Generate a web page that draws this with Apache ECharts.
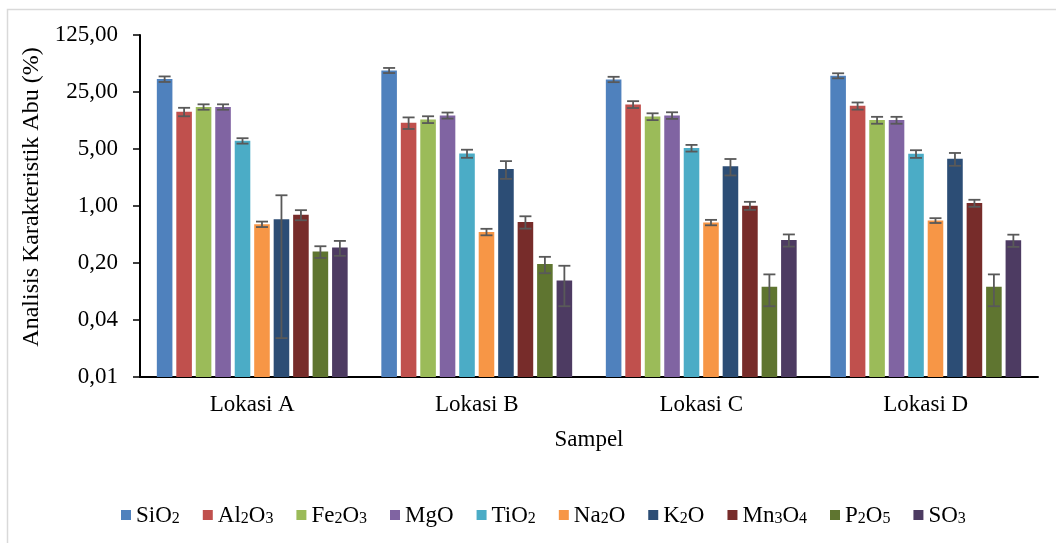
<!DOCTYPE html>
<html>
<head>
<meta charset="utf-8">
<script src="https://cdn.jsdelivr.net/npm/echarts@6/dist/echarts.min.js"></script>
<style>html,body{margin:0;padding:0;background:#fff}#chart{width:1056px;height:543px}</style>
</head>
<body>
<div id="chart"></div>
<script>
const categories = ['Lokasi A', 'Lokasi B', 'Lokasi C', 'Lokasi D'];
const seriesNames = ['SiO2', 'Al2O3', 'Fe2O3', 'MgO', 'TiO2', 'Na2O', 'K2O', 'Mn3O4', 'P2O5', 'SO3'];
const yTicks = [0.008, 0.04, 0.2, 1, 5, 25, 125];

const SiO2 = [36.0, 46.0, 35.7, 39.6];
const Al2O3 = [14.3, 10.5, 17.6, 16.9];
const Fe2O3 = [16.4, 11.5, 12.5, 11.3];
const MgO = [16.4, 12.9, 12.9, 11.3];
const TiO2 = [6.3, 4.4, 5.13, 4.36];
const Na2O = [0.598, 0.481, 0.628, 0.664];
const K2O = [0.689, 2.85, 3.07, 3.79];
const Mn3O4 = [0.779, 0.638, 1.01, 1.085];
const P2O5 = [0.276, 0.194, 0.102, 0.102];
const SO3 = [0.309, 0.122, 0.383, 0.38];

const errSiO2 = [2.8, 3.3, 2.7, 2.8];
const errAl2O3 = [1.7, 1.7, 1.7, 1.7];
const errFe2O3 = [1.25, 1.1, 1.2, 1.1];
const errMgO = [1.25, 1.1, 1.2, 1.1];
const errTiO2 = [0.48, 0.5, 0.48, 0.47];
const errNa2O = [0.046, 0.044, 0.048, 0.045];
const errK2O = [0.665, 0.70, 0.70, 0.68];
const errMn3O4 = [0.11, 0.11, 0.115, 0.107];
const errP2O5 = [0.045, 0.044, 0.043, 0.043];
const errSO3 = [0.064, 0.063, 0.065, 0.065];

const values = [SiO2, Al2O3, Fe2O3, MgO, TiO2, Na2O, K2O, Mn3O4, P2O5, SO3];
const errors = [errSiO2, errAl2O3, errFe2O3, errMgO, errTiO2, errNa2O, errK2O, errMn3O4, errP2O5, errSO3];
const colors = ['#4F81BD', '#C0504D', '#9BBB59', '#8064A2', '#4BACC6', '#F79646', '#2C4D75', '#772C2A', '#5F7530', '#4D3B62'];

const FONT = '"Liberation Serif", "Times New Roman", serif';
const CAT_GAP = 0.15, BAR_GAP = 0.25;
const N = seriesNames.length;
const AXIS_MIN = yTicks[0];

function richName(name) {
  return name.replace(/(\d)/g, '{s|$1}').replace(/^([^{]+)/, '{m|$1}').replace(/\}([A-Za-z]+)/g, '}{m|$1}');
}

const chart = echarts.init(document.getElementById('chart'));
const series = [];
seriesNames.forEach((name, i) => {
  // transparent base so that bars rise from the axis minimum on the log axis
  series.push({
    name: 'base_' + name,
    type: 'bar',
    stack: 'st' + i,
    data: values[i].map(() => AXIS_MIN),
    barCategoryGap: (CAT_GAP * 100) + '%',
    barGap: (BAR_GAP * 100) + '%',
    itemStyle: { color: 'rgba(0,0,0,0)' },
    silent: true,
    z: 1
  });
  series.push({
    name: name,
    type: 'bar',
    stack: 'st' + i,
    data: values[i].map(v => v - AXIS_MIN),
    barCategoryGap: (CAT_GAP * 100) + '%',
    barGap: (BAR_GAP * 100) + '%',
    itemStyle: { color: colors[i] },
    z: 2
  });
});
seriesNames.forEach((name, i) => {
  series.push({
    name: 'err_' + name,
    type: 'custom',
    z: 5,
    data: values[i].map((v, k) => [k, v - errors[i][k], v + errors[i][k]]),
    encode: { x: 0, y: [1, 2] },
    renderItem: function (params, api) {
      const k = api.value(0);
      const lo = api.coord([k, api.value(1)]);
      const hi = api.coord([k, api.value(2)]);
      const band = api.size([1, 0])[0];
      const groupW = band * (1 - CAT_GAP);
      const w = groupW / (N + (N - 1) * BAR_GAP);
      const x = lo[0] - groupW / 2 + i * w * (1 + BAR_GAP) + w / 2;
      const cap = 6;
      const st = { stroke: '#595959', lineWidth: 1.8 };
      return {
        type: 'group',
        children: [
          { type: 'line', shape: { x1: x, y1: lo[1], x2: x, y2: hi[1] }, style: st },
          { type: 'line', shape: { x1: x - cap, y1: lo[1], x2: x + cap, y2: lo[1] }, style: st },
          { type: 'line', shape: { x1: x - cap, y1: hi[1], x2: x + cap, y2: hi[1] }, style: st }
        ]
      };
    }
  });
});

const option = {
  animation: false,
  backgroundColor: '#fff',
  textStyle: { fontFamily: FONT },
  graphic: [{
    type: 'rect',
    shape: { x: 7.5, y: 9.5, width: 1200, height: 700 },
    style: { fill: 'none', stroke: '#d9d9d9', lineWidth: 1.5 },
    silent: true
  }],
  grid: { left: 140, right: 18, top: 35, bottom: 166 },
  legend: {
    data: seriesNames,
    left: 116,
    top: 499,
    itemWidth: 10,
    itemHeight: 10,
    itemGap: 23,
    icon: 'rect',
    formatter: function (n) { return richName(n); },
    textStyle: {
      fontFamily: FONT,
      fontSize: 23,
      color: '#000',
      rich: {
        m: { fontFamily: FONT, fontSize: 23, color: '#000', lineHeight: 24, verticalAlign: 'bottom' },
        s: { fontFamily: FONT, fontSize: 16, color: '#000', lineHeight: 20, verticalAlign: 'bottom' }
      }
    }
  },
  xAxis: {
    type: 'category',
    data: categories,
    name: 'Sampel',
    nameLocation: 'middle',
    nameGap: 51,
    nameTextStyle: { fontFamily: FONT, fontSize: 23, color: '#000' },
    axisLine: { lineStyle: { color: '#000', width: 2 } },
    axisTick: { show: false },
    axisLabel: { fontFamily: FONT, fontSize: 23, color: '#000', margin: 16 }
  },
  yAxis: {
    type: 'log',
    logBase: 5,
    min: yTicks[0],
    max: yTicks[yTicks.length - 1],
    name: 'Analisis Karakteristik Abu (%)',
    nameLocation: 'middle',
    nameGap: 91,
    nameTextStyle: { fontFamily: FONT, fontSize: 24, color: '#000', padding: [0, 0, 0, 18] },
    axisLine: { show: true, lineStyle: { color: '#000', width: 2 } },
    axisTick: { show: true, inside: false, length: 7, lineStyle: { color: '#000', width: 1.5 } },
    splitLine: { show: false },
    axisLabel: {
      fontFamily: FONT, fontSize: 23, color: '#000', margin: 22,
      formatter: function (v) { return Number(v).toFixed(2).replace('.', ','); }
    }
  },
  series: series
};
chart.setOption(option);
</script>
</body>
</html>
